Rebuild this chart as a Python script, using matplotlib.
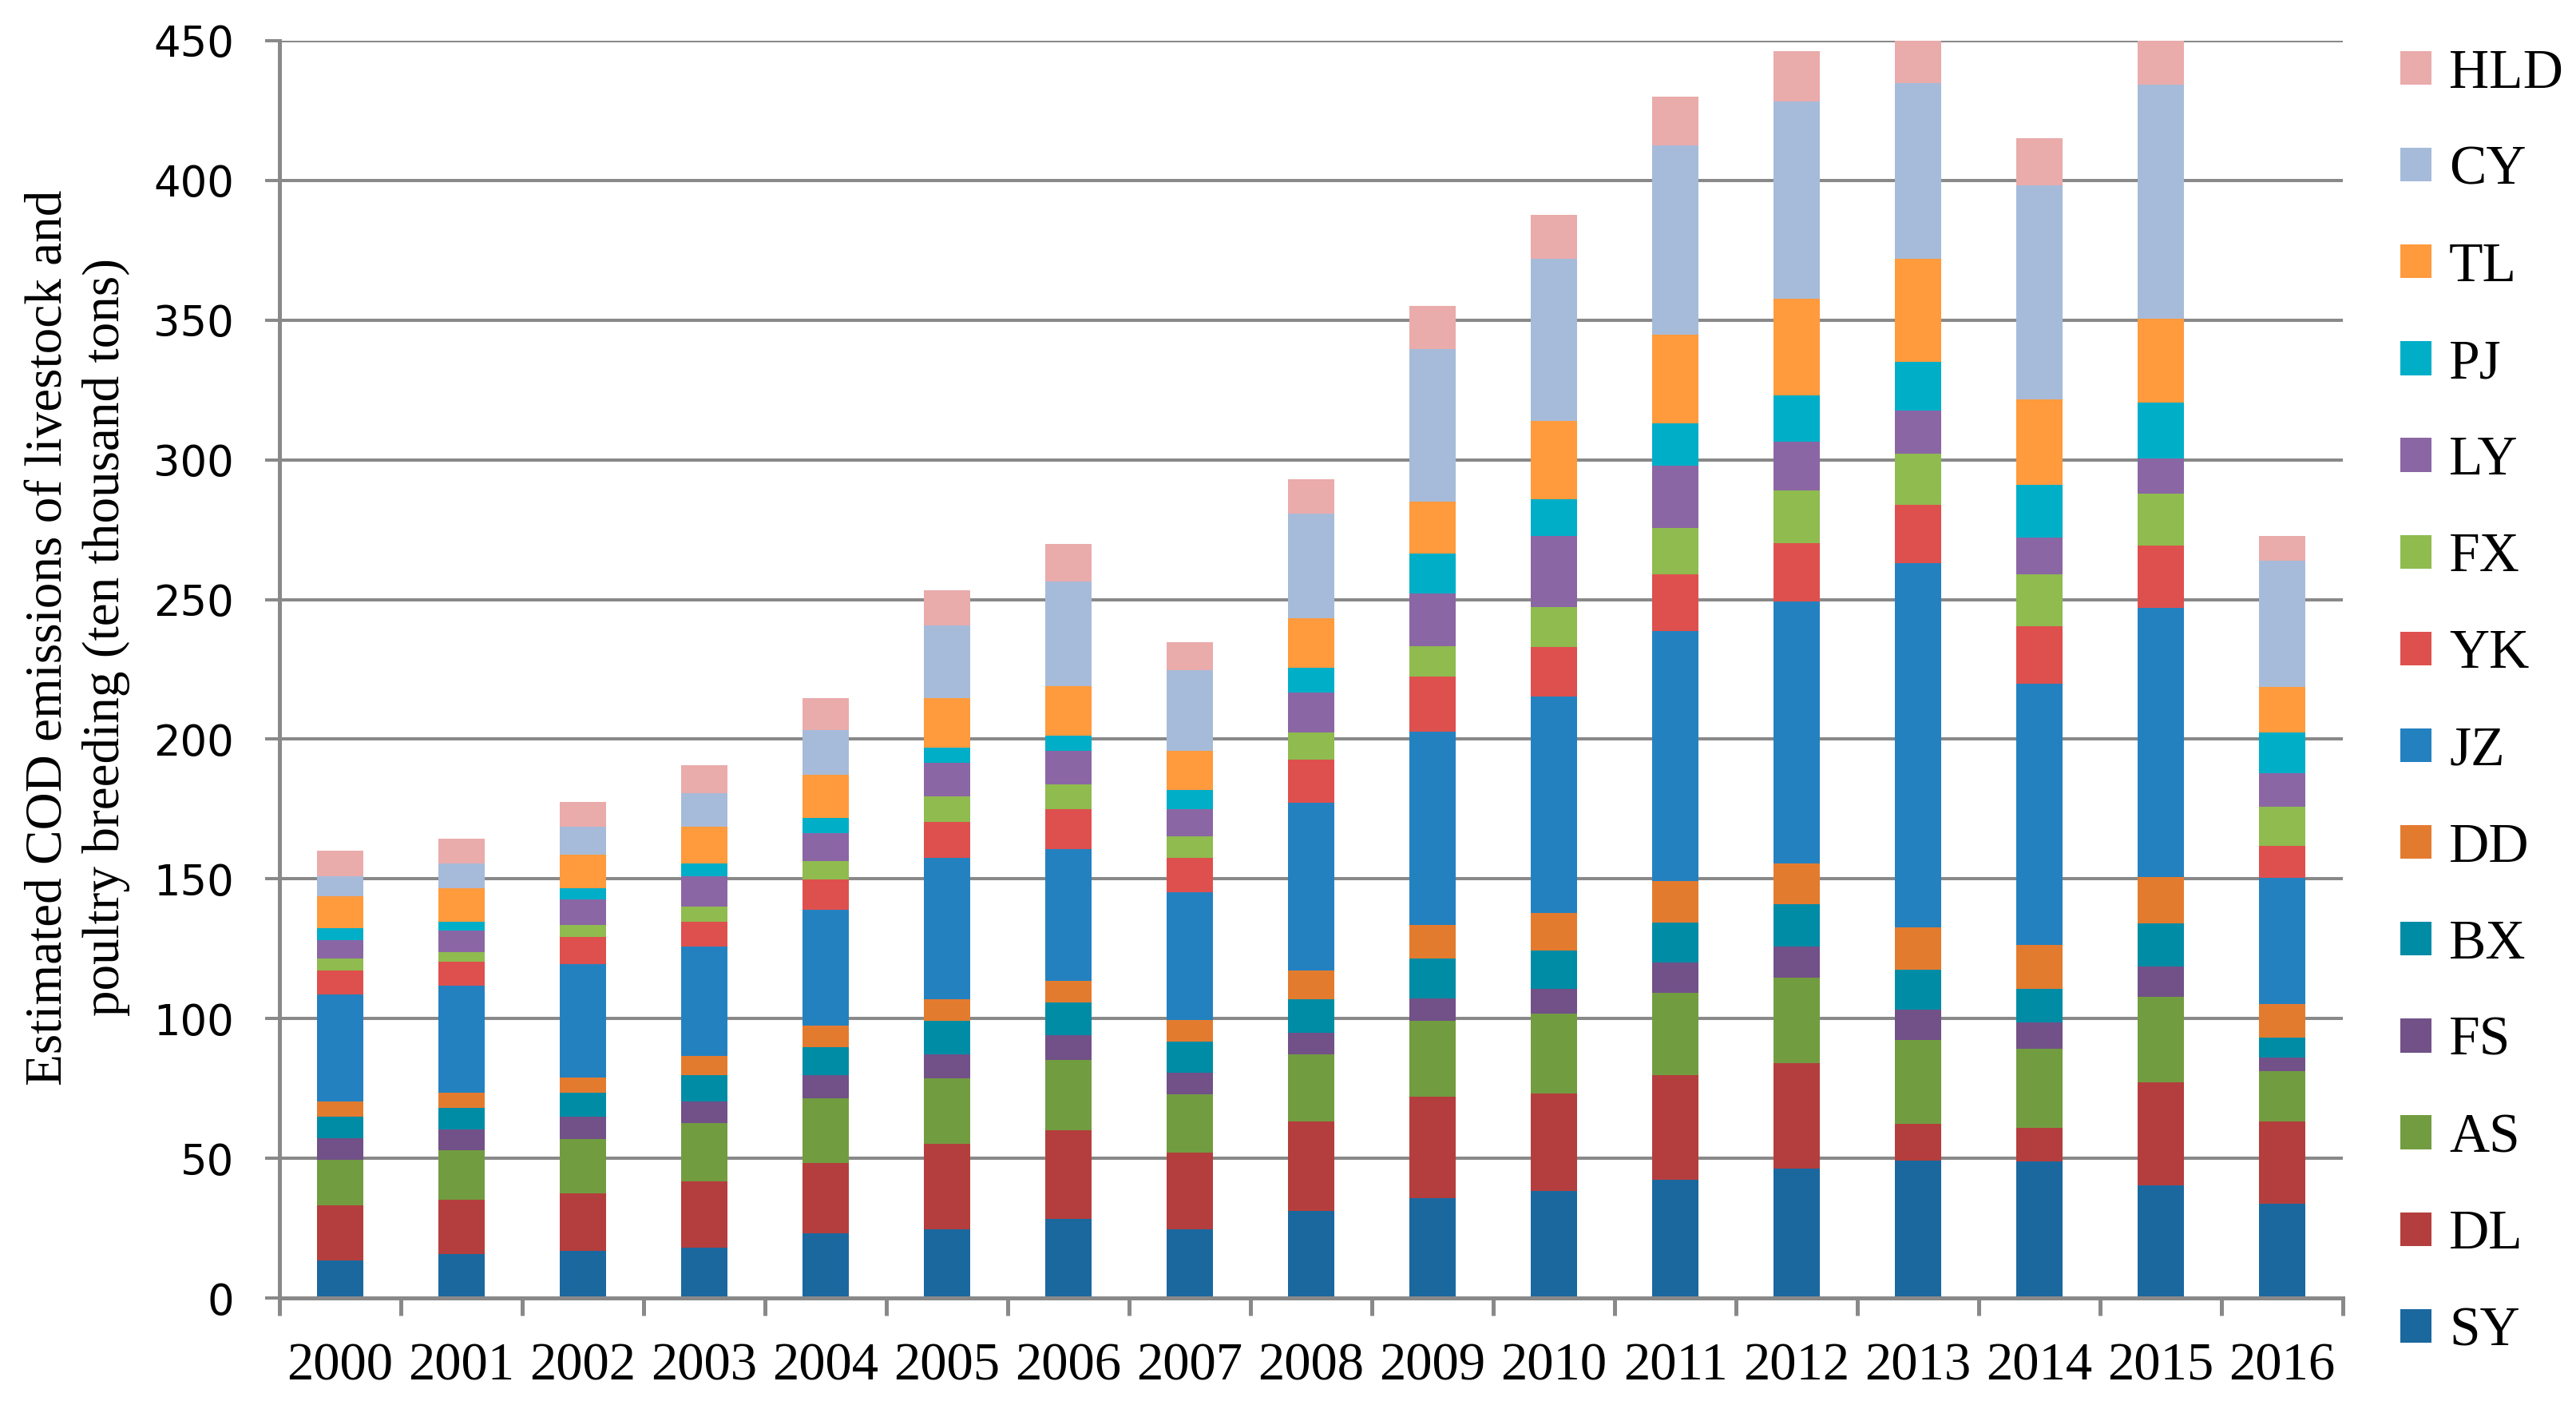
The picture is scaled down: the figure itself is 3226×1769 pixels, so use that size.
import matplotlib
matplotlib.use("Agg")
import matplotlib.pyplot as plt
import numpy as np
from matplotlib.ticker import FixedLocator, NullFormatter

years = [str(y) for y in range(2000, 2017)]
series = ["SY", "DL", "AS", "FS", "BX", "DD", "JZ", "YK", "FX", "LY", "PJ", "TL", "CY", "HLD"]

SY = [13.5, 15.7, 16.8, 17.9, 23.2, 24.6, 28.4, 24.6, 31.3, 35.6, 38.2, 42.4, 46.2, 49.1, 48.8, 40.4, 33.7]
DL = [19.7, 19.4, 20.6, 23.8, 25.1, 30.7, 31.5, 27.5, 31.8, 36.4, 35.0, 37.5, 37.9, 13.3, 12.0, 36.7, 29.5]
AS = [16.2, 17.7, 19.6, 20.8, 23.1, 23.3, 25.3, 20.9, 24.2, 27.3, 28.5, 29.3, 30.6, 29.9, 28.3, 30.7, 18.1]
FS = [7.8, 7.6, 7.8, 7.8, 8.5, 8.7, 8.8, 7.5, 7.5, 7.8, 9.0, 10.9, 11.1, 10.9, 9.6, 10.9, 4.8]
BX = [7.6, 7.7, 8.7, 9.6, 10.0, 11.9, 11.8, 11.2, 12.2, 14.3, 13.7, 14.3, 15.2, 14.2, 12.0, 15.3, 7.2]
DD = [5.5, 5.4, 5.5, 6.6, 7.6, 7.8, 7.7, 7.8, 10.1, 12.2, 13.3, 14.7, 14.5, 15.2, 15.7, 16.6, 12.0]
JZ = [38.2, 38.2, 40.4, 39.3, 41.5, 50.5, 47.3, 45.8, 60.2, 69.0, 77.7, 89.5, 93.8, 130.3, 93.4, 96.4, 45.2]
YK = [8.8, 8.8, 9.8, 8.9, 10.8, 13.0, 14.3, 12.2, 15.3, 19.7, 17.5, 20.4, 20.8, 20.9, 20.5, 22.3, 11.4]
FX = [4.3, 3.4, 4.4, 5.4, 6.5, 9.1, 8.7, 7.8, 9.9, 11.0, 14.3, 16.6, 18.8, 18.5, 18.7, 18.7, 13.9]
LY = [6.5, 7.5, 9.0, 10.8, 10.0, 11.9, 12.0, 9.8, 14.3, 18.9, 25.5, 22.3, 17.5, 15.2, 13.3, 12.6, 12.0]
PJ = [4.2, 3.3, 4.1, 4.6, 5.5, 5.5, 5.4, 6.8, 8.8, 14.3, 13.3, 15.1, 16.6, 17.5, 18.7, 19.9, 14.5]
TL = [11.4, 12.0, 12.0, 13.1, 15.4, 17.7, 17.9, 13.9, 17.7, 18.5, 28.0, 31.8, 34.6, 37.0, 30.7, 30.1, 16.3]
CY = [7.3, 8.8, 10.1, 12.2, 16.2, 26.0, 37.2, 29.0, 37.4, 54.5, 57.8, 67.6, 70.6, 62.9, 76.5, 83.7, 45.2]
HLD = [9.0, 8.8, 8.7, 9.8, 11.3, 12.5, 13.5, 9.8, 12.4, 15.6, 15.8, 17.6, 18.0, 15.5, 16.9, 15.7, 9.0]

values = [SY, DL, AS, FS, BX, DD, JZ, YK, FX, LY, PJ, TL, CY, HLD]
colors = ["#1b689f", "#b43e3d", "#729c40", "#715188", "#018ca5", "#e37b2f", "#2481c0",
          "#de504e", "#8fbb4f", "#8b66a4", "#00aec8", "#ff9a3d", "#a6bbd9", "#eaabab"]

yticks = list(range(0, 451, 50))

GREY = "#898989"
SERIF = ["Liberation Serif", "DejaVu Serif"]

fig = plt.figure(figsize=(16.13, 8.845), dpi=200)
ax = fig.add_axes([0.1085, 0.0814, 0.9095 - 0.1085, 0.9712 - 0.0814])

x = np.arange(len(years))
bottom = np.zeros(len(years))
handles = []
for name, vals, col in zip(series, values, colors):
    v = np.array(vals)
    b = ax.bar(x, v, width=0.38, bottom=bottom, color=col, label=name, linewidth=0)
    handles.append(b)
    bottom += v

ax.set_xlim(-0.5, len(years) - 0.5)
ax.set_ylim(0, 450)
ax.set_axisbelow(True)
ax.yaxis.grid(True, color=GREY, linewidth=1.45)
ax.set_yticks(yticks)
ax.set_yticklabels([str(t) for t in yticks], fontfamily="DejaVu Sans", fontsize=19)
ax.tick_params(axis="y", direction="out", length=6.5, width=1.45, color=GREY, pad=14)

ax.set_xticks(x)
ax.set_xticklabels(years, fontfamily=SERIF, fontsize=24)
ax.tick_params(axis="x", which="major", length=0, pad=20)
ax.xaxis.set_minor_locator(FixedLocator(np.arange(-0.5, len(years), 1.0)))
ax.xaxis.set_minor_formatter(NullFormatter())
ax.tick_params(axis="x", which="minor", direction="out", length=8, width=1.8, color=GREY)

for s in ["top", "right"]:
    ax.spines[s].set_visible(False)
ax.spines["left"].set_color(GREY)
ax.spines["left"].set_linewidth(1.8)
ax.spines["bottom"].set_color(GREY)
ax.spines["bottom"].set_linewidth(1.8)

fig.text(0.030, 0.549,
         "Estimated COD emissions of livestock and\npoultry breeding (ten thousand tons)",
         rotation=90, ha="center", va="center", multialignment="center",
         fontfamily=SERIF, fontsize=23.5, linespacing=1.26)

leg = fig.legend(handles[::-1], series[::-1], loc="center left",
                 bbox_to_anchor=(0.9318, 0.5024), frameon=False,
                 prop={"family": SERIF, "size": 25},
                 handlelength=0.56, handleheight=0.56, handletextpad=0.32,
                 labelspacing=0.83, borderpad=0, borderaxespad=0)

fig.savefig("out.png", dpi=200)
